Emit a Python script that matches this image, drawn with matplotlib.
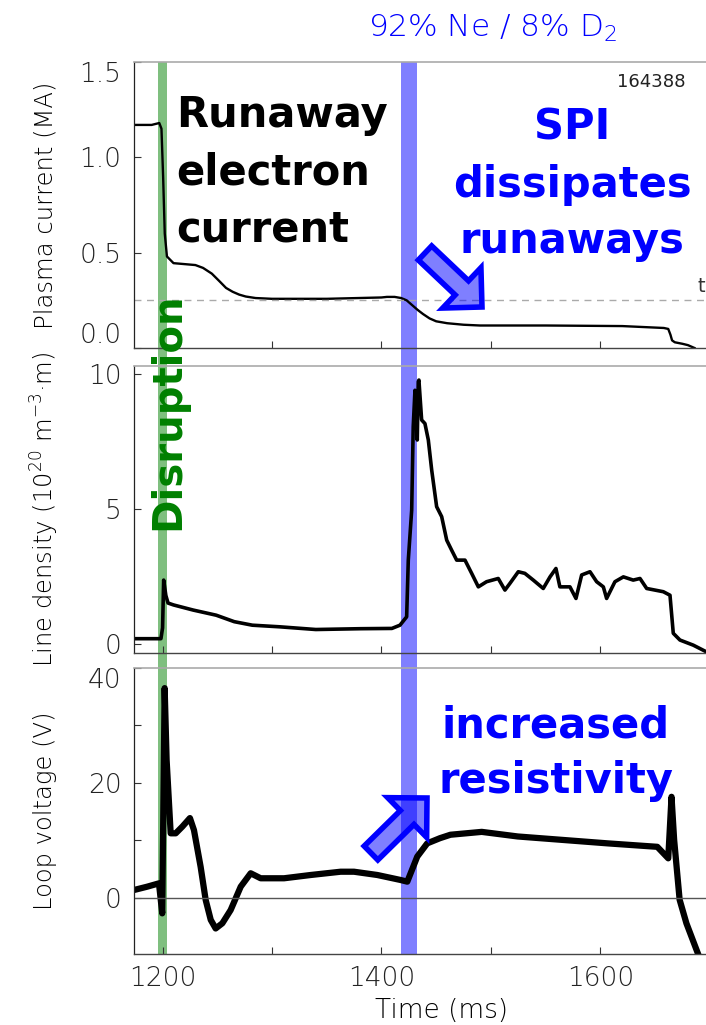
import matplotlib.pyplot as plt
from matplotlib.patches import Rectangle, FancyArrowPatch
from matplotlib.transforms import blended_transform_factory

plt.rcParams['font.family'] = ['DejaVu Sans']
plt.rcParams['mathtext.default'] = 'regular'

# shot 164388 traces, time in ms
t_ip = [1174, 1190, 1197, 1199, 1200.5, 1202, 1204, 1210, 1220, 1230, 1237, 1245,
        1252, 1258, 1264, 1270, 1276, 1285, 1300, 1350, 1400, 1405, 1412, 1418,
        1423, 1428, 1433, 1438, 1444, 1450, 1460, 1475, 1490, 1550, 1620, 1658,
        1662, 1664, 1665.5, 1668, 1675, 1680, 1686]
ip = [1.17, 1.17, 1.18, 1.15, 0.90, 0.60, 0.48, 0.445, 0.44, 0.435, 0.42, 0.39,
      0.35, 0.315, 0.295, 0.28, 0.27, 0.262, 0.258, 0.258, 0.265, 0.268, 0.268, 0.262,
      0.25, 0.225, 0.20, 0.178, 0.155, 0.14, 0.13, 0.122, 0.118, 0.118, 0.115, 0.105,
      0.10, 0.07, 0.04, 0.03, 0.022, 0.015, 0.0]

t_ne = [1174, 1198.5, 1200, 1201, 1203, 1205, 1210, 1228, 1249, 1265.5, 1282, 1307,
        1340, 1381, 1409.5, 1416.9, 1423, 1424.5, 1427.6, 1429, 1430.6, 1432.7,
        1433.6, 1434.2, 1436.7, 1439.7, 1442.8, 1445.9, 1450.4, 1455, 1459.6,
        1464.1, 1468.7, 1476.3, 1482.4, 1488.5, 1496, 1506.7, 1512.8, 1517.4,
        1525, 1531, 1538.7, 1547.8, 1554, 1559.4, 1563, 1572.2, 1577.7, 1582.9,
        1590.5, 1596.6, 1602.7, 1605.7, 1613.3, 1621, 1630, 1636.2, 1642.3,
        1657.5, 1663.6, 1666.6, 1672.7, 1684.9, 1696.5]
ne = [0.2, 0.2, 0.6, 2.37, 1.8, 1.52, 1.45, 1.26, 1.07, 0.83, 0.70, 0.64,
      0.54, 0.57, 0.58, 0.70, 1.01, 3.11, 4.96, 8.05, 9.4, 7.56,
      9.72, 9.78, 8.30, 8.17, 7.56, 6.44, 5.09, 4.72, 3.85,
      3.48, 3.11, 3.11, 2.62, 2.12, 2.31, 2.43, 2.0, 2.25,
      2.68, 2.62, 2.37, 2.06, 2.49, 2.80, 2.12, 2.12, 1.69, 2.56,
      2.68, 2.31, 2.12, 1.69, 2.31, 2.49, 2.37, 2.43, 2.06,
      1.94, 1.81, 0.40, 0.15, -0.04, -0.28]

t_vl = [1173.9, 1186, 1196.7, 1199.7, 1201.9, 1203.7, 1207.4, 1212, 1218, 1225,
        1228.7, 1234.8, 1239.4, 1244, 1248.5, 1254.6, 1262.2, 1271.4, 1280.5,
        1289.6, 1311, 1335.3, 1362.7, 1374.9, 1396.2, 1417.5, 1423.6, 1432.7,
        1441.8, 1453.4, 1463, 1491.6, 1524.5, 1565.6, 1606.7, 1652, 1662, 1665,
        1667.4, 1672.4, 1678.6, 1689]
vl = [1.39, 1.97, 2.55, -2.67, 36.5, 24.0, 11.25, 11.25, 12.4, 13.9,
      11.8, 5.4, -0.35, -3.8, -5.3, -4.4, -2.1, 1.97, 4.3,
      3.43, 3.43, 4.0, 4.57, 4.57, 4.0, 3.13, 2.84, 7.2,
      9.5, 10.4, 11.0, 11.5, 10.7, 10.1, 9.5, 8.9, 6.9, 17.6,
      10.1, -0.3, -4.4, -9.6]

t_disruption = (1195.8, 1204.2)
t_spi = (1418, 1432.6)

W, H = 706, 1025
fig = plt.figure(figsize=(W / 100, H / 100), dpi=100)


def box(top, bottom):
    return [134 / W, 1 - bottom / H, (W - 134) / W, (bottom - top) / H]


ax1 = fig.add_axes(box(62, 348))
ax2 = fig.add_axes(box(366, 653))
ax3 = fig.add_axes(box(668, 954))

for ax in (ax1, ax2, ax3):
    ax.set_facecolor('none')
    ax.set_xlim(1173.9, 1696.5)
    ax.set_xticks([1200, 1300, 1400, 1500, 1600])
    ax.tick_params(direction='in', length=5, width=0.8, color='#333333',
                   labelsize=19, pad=9, labelcolor='#222222')
    ax.spines['right'].set_visible(False)
    ax.spines['top'].set_color('#aaaaaa')
    ax.spines['top'].set_linewidth(1.2)
    ax.spines['left'].set_color('#222222')
    ax.spines['left'].set_linewidth(0.9)
    ax.spines['bottom'].set_color('#444444')
    ax.spines['bottom'].set_linewidth(1.0)

ax1.tick_params(labelbottom=False)
ax2.tick_params(labelbottom=False)
ax3.set_xticklabels(['1200', '', '1400', '', '1600'])

# plasma current
ax1.plot(t_ip, ip, color='black', lw=1.7)
ax1.axhline(0.25, color='#aaaaaa', lw=1, ls=(0, (5, 4)))
ax1.set_ylim(0, 1.5)
ax1.set_yticks([0, 0.5, 1.0, 1.5])
ax1.set_yticklabels(['0.0', '0.5', '1.0', '1.5'])
ax1.set_ylabel('Plasma current (MA)', fontsize=17.5, fontweight='light', va='center')
ax1.yaxis.set_label_coords(-0.155, 0.5)

# line density
ax2.plot(t_ne, ne, color='black', lw=2.6)
ax2.set_ylim(-0.33, 10.3)
ax2.set_yticks([0, 5, 10])
ax2.set_ylabel('Line density (10$^{20}$ m$^{-3}$·m)', fontsize=17.5,
               fontweight='light', va='center')
ax2.yaxis.set_label_coords(-0.155, 0.5)

# loop voltage
ax3.plot(t_vl, vl, color='black', lw=4.5)
ax3.axhline(0, color='#555555', lw=1)
ax3.set_ylim(-9.74, 40)
ax3.set_yticks([0, 10, 20, 30, 40])
ax3.set_yticklabels(['0', '', '20', '', '40'])
ax3.set_ylabel('Loop voltage (V)', fontsize=17.5, fontweight='light', va='center')
ax3.yaxis.set_label_coords(-0.155, 0.5)
ax3.set_xlabel('Time (ms)', fontsize=19, fontweight='light', va='center')
ax3.xaxis.set_label_coords(0.537, -0.196)

for ax in (ax1, ax2, ax3):
    for lab in ax.get_yticklabels() + ax.get_xticklabels():
        lab.set_fontweight('light')

# keep the edge labels inside their panels
ax1.get_yticklabels()[0].set_va('bottom')
ax1.get_yticklabels()[-1].set_va('top')
ax3.get_yticklabels()[-1].set_va('top')

# disruption and pellet injection bands through all panels
trans = blended_transform_factory(ax3.transData, fig.transFigure)
y0, y1 = 1 - 954 / H, 1 - 62 / H
for (ta, tb), col in ((t_disruption, (0, 0.5, 0, 0.5)), (t_spi, (0, 0, 1, 0.5))):
    fig.patches.append(Rectangle((ta, y0), tb - ta, y1 - y0, transform=trans,
                                 facecolor=col, edgecolor='none', zorder=-1))


def fx(x):
    return x / W


def fy(y):
    return 1 - y / H


fig.text(fx(493), fy(28), '92% Ne / 8% D$_2$', color='#0000ff', fontsize=22.5,
         fontweight='light', ha='center', va='center')
fig.text(fx(651), fy(82), '164388', color='#222222', fontsize=13,
         ha='center', va='center')
fig.text(fx(697), fy(287), 't', color='#333333', fontsize=14,
         ha='left', va='center')

for s, y in zip(['Runaway', 'electron', 'current'], [127, 185, 242]):
    fig.text(fx(176), fy(y), s, color='black', fontsize=30, fontweight='bold',
             ha='left', va='baseline')
for s, y in zip(['SPI', 'dissipates', 'runaways'], [140, 197, 253]):
    fig.text(fx(572), fy(y), s, color='#0000ff', fontsize=30, fontweight='bold',
             ha='center', va='baseline')
for s, y in zip(['increased', 'resistivity'], [737, 793]):
    fig.text(fx(556), fy(y), s, color='#0000ff', fontsize=30, fontweight='bold',
             ha='center', va='baseline')
fig.text(fx(168), fy(411), 'Disruption', color='#008000', fontsize=29,
         fontweight='bold', rotation=90, ha='center', va='center')

# block arrows
arrow_style = dict(arrowstyle='simple,head_length=2.0,head_width=4.0,tail_width=1.4',
                   mutation_scale=10, shrinkA=0, shrinkB=0,
                   facecolor=(0, 0, 1, 0.5), edgecolor='#0000ff', lw=4,
                   joinstyle='miter')
fig.patches.append(FancyArrowPatch((fx(425), fy(253)), (fx(482), fy(307)),
                                   transform=fig.transFigure, **arrow_style))
fig.patches.append(FancyArrowPatch((fx(371), fy(853)), (fx(427), fy(798)),
                                   transform=fig.transFigure, **arrow_style))

fig.savefig('out.png', dpi=100)
